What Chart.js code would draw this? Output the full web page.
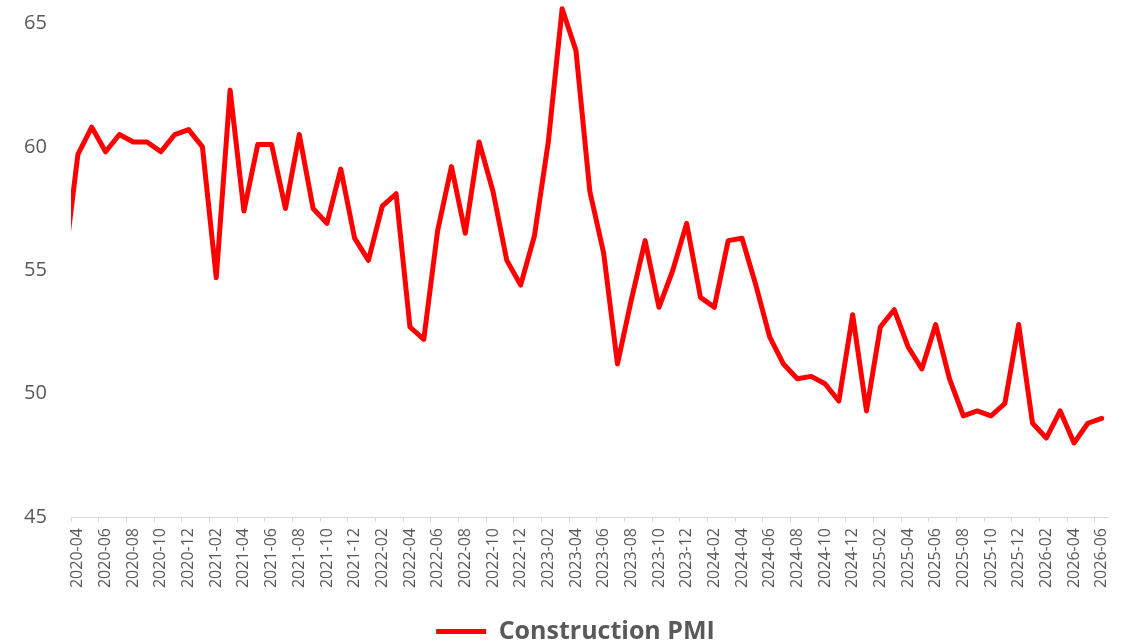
<!DOCTYPE html>
<html>
<head>
<meta charset="utf-8">
<script src="https://cdn.jsdelivr.net/npm/chart.js@4.4.1/dist/chart.umd.min.js"></script>
<style>
  html, body { margin: 0; padding: 0; background: #fff; overflow: hidden; }
  #wrap { width: 1127px; height: 654px; }
</style>
</head>
<body>
<div id="wrap"><canvas id="pmiChart"></canvas></div>
<script>
// monthly labels, first one (2020-03) sits just left of the plot and gets clipped
const months = [
  "2020-03", "2020-04", "2020-05", "2020-06", "2020-07", "2020-08", "2020-09", "2020-10", "2020-11", "2020-12",
  "2021-01", "2021-02", "2021-03", "2021-04", "2021-05", "2021-06", "2021-07", "2021-08", "2021-09", "2021-10", "2021-11", "2021-12",
  "2022-01", "2022-02", "2022-03", "2022-04", "2022-05", "2022-06", "2022-07", "2022-08", "2022-09", "2022-10", "2022-11", "2022-12",
  "2023-01", "2023-02", "2023-03", "2023-04", "2023-05", "2023-06", "2023-07", "2023-08", "2023-09", "2023-10", "2023-11", "2023-12",
  "2024-01", "2024-02", "2024-03", "2024-04", "2024-05", "2024-06", "2024-07", "2024-08", "2024-09", "2024-10", "2024-11", "2024-12",
  "2025-01", "2025-02", "2025-03", "2025-04", "2025-05", "2025-06", "2025-07", "2025-08", "2025-09", "2025-10", "2025-11", "2025-12",
  "2026-01", "2026-02", "2026-03", "2026-04", "2026-05", "2026-06"
];

const constructionPmi = [
  55.1, 59.7, 60.8, 59.8, 60.5, 60.2, 60.2, 59.8, 60.5, 60.7,
  60.0, 54.7, 62.3, 57.4, 60.1, 60.1, 57.5, 60.5, 57.5, 56.9, 59.1, 56.3,
  55.4, 57.6, 58.1, 52.7, 52.2, 56.6, 59.2, 56.5, 60.2, 58.2, 55.4, 54.4,
  56.4, 60.2, 65.6, 63.9, 58.2, 55.7, 51.2, 53.8, 56.2, 53.5, 55.0, 56.9,
  53.9, 53.5, 56.2, 56.3, 54.4, 52.3, 51.2, 50.6, 50.7, 50.4, 49.7, 53.2,
  49.3, 52.7, 53.4, 51.9, 51.0, 52.8, 50.6, 49.1, 49.3, 49.1, 49.6, 52.8,
  48.8, 48.2, 49.3, 48.0, 48.8, 49.0
];

const firstShown = "2020-04";
const lastShown = "2026-06";
const yTicks = [45, 50, 55, 60, 65];

const grey = "#595959";
const axisGrey = "#d9d9d9";

const ctx = document.getElementById("pmiChart").getContext("2d");
new Chart(ctx, {
  type: "line",
  data: {
    labels: months,
    datasets: [{
      label: "Construction PMI",
      data: constructionPmi,
      borderColor: "#ff0000",
      backgroundColor: "#ff0000",
      borderWidth: 5,
      borderJoinStyle: "round",
      borderCapStyle: "round",
      pointRadius: 0,
      pointHoverRadius: 0,
      tension: 0,
      clip: { left: 0, top: false, right: false, bottom: false }
    }]
  },
  options: {
    responsive: true,
    maintainAspectRatio: false,
    animation: false,
    layout: { padding: { top: 23.5, right: 16, left: 40, bottom: 0 } },
    plugins: {
      tooltip: { enabled: false },
      legend: {
        position: "bottom",
        labels: {
          usePointStyle: true,
          pointStyle: "line",
          pointStyleWidth: 50,
          boxWidth: 50,
          padding: 10,
          color: grey,
          font: { family: "'Open Sans', sans-serif", size: 25, weight: "bold" }
        }
      }
    },
    scales: {
      x: {
        type: "category",
        min: firstShown,
        max: lastShown,
        offset: true,
        afterFit: (scale) => { scale.height = 92; },
        grid: {
          offset: true,
          drawOnChartArea: false,
          tickLength: 5,
          tickColor: (c) => (c.index % 2 === 0 ? axisGrey : "rgba(0,0,0,0)")
        },
        border: { color: axisGrey, width: 1 },
        ticks: {
          autoSkip: false,
          maxRotation: 90,
          minRotation: 90,
          padding: 6,
          color: grey,
          font: { family: "'Open Sans', sans-serif", size: 16 },
          callback: function (val, i) {
            return i % 2 === 0 ? this.getLabelForValue(val) : "";
          }
        }
      },
      y: {
        min: 45,
        max: 65,
        afterFit: (scale) => { scale.width = 31; },
        afterBuildTicks: (scale) => { scale.ticks = yTicks.map(v => ({ value: v })); },
        grid: { display: false, drawTicks: false },
        border: { display: false },
        ticks: {
          mirror: true,
          crossAlign: "near",
          padding: -47,
          color: grey,
          font: { family: "'Open Sans', sans-serif", size: 20 }
        }
      }
    }
  }
});
</script>
</body>
</html>
